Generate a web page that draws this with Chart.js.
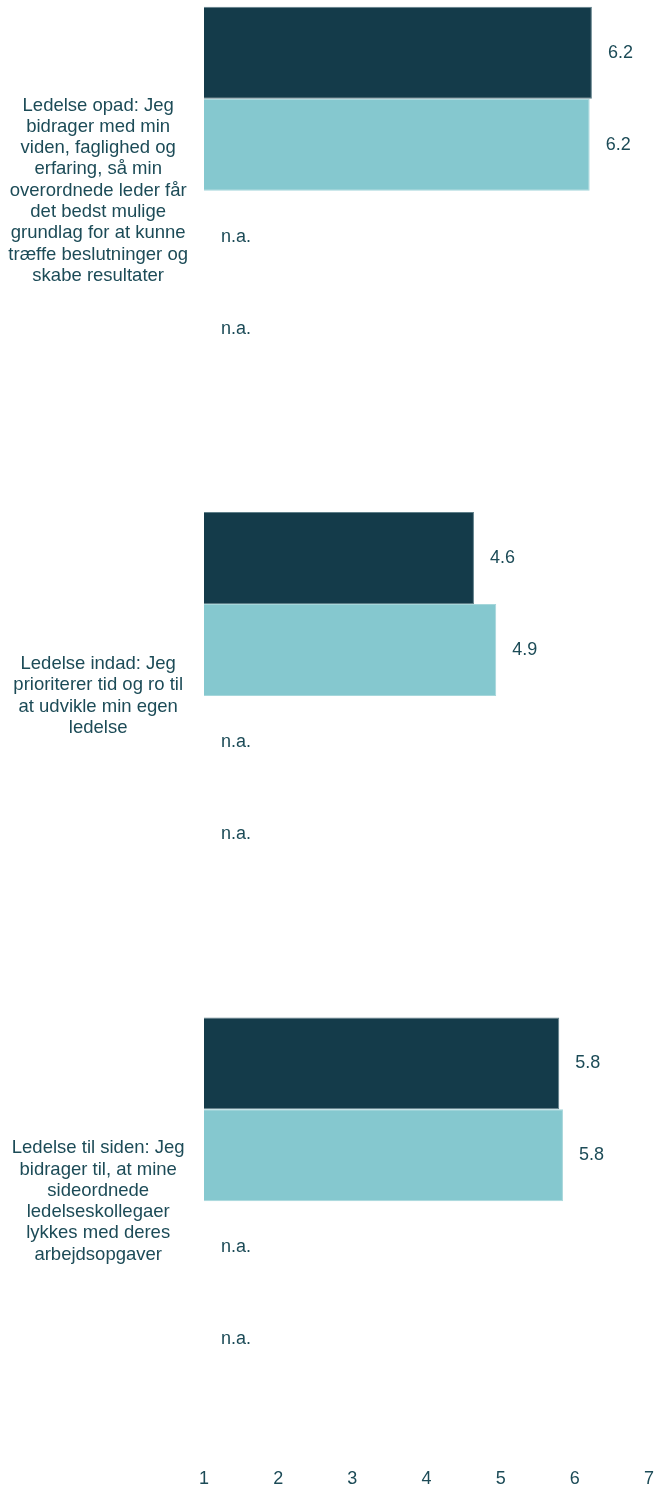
<!DOCTYPE html>
<html lang="da">
<head>
<meta charset="utf-8">
<script src="https://cdn.jsdelivr.net/npm/chart.js@4"></script>
<style>
  html, body { margin: 0; padding: 0; background: #ffffff; }
  body { width: 657px; height: 1486px; overflow: hidden; position: relative; }
  #wrap { position: absolute; left: 0; top: -62px; width: 657px; height: 1552px; }
</style>
</head>
<body>
<div id="wrap"><canvas id="chart"></canvas></div>
<script>
// Spørgsmål (kategorier), brudt op i linjer
const categories = [
  ["Ledelse opad: Jeg", "bidrager med min", "viden, faglighed og", "erfaring, så min", "overordnede leder får", "det bedst mulige", "grundlag for at kunne", "træffe beslutninger og", "skabe resultater"],
  ["Ledelse indad: Jeg", "prioriterer tid og ro til", "at udvikle min egen", "ledelse"],
  ["Ledelse til siden: Jeg", "bidrager til, at mine", "sideordnede", "ledelseskollegaer", "lykkes med deres", "arbejdsopgaver"]
];

// Gennemsnitsscorer pr. svargruppe (null = ikke tilgængelig)
const seriesA = [6.23, 4.64, 5.79];
const seriesB = [6.20, 4.94, 5.84];
const seriesC = [null, null, null];
const seriesD = [null, null, null];

const seriesNames = ["Gruppe 1", "Gruppe 2", "Gruppe 3", "Gruppe 4"];
const xTicks = [1, 2, 3, 4, 5, 6, 7];

const DARK = "#143b4a";
const LIGHT = "#85c8cf";
const TEXT = "#1c4b57";
const FONT = "'Liberation Sans', Arial, Helvetica, sans-serif";

// Værdier til højre for søjlerne, "n.a." hvor der ikke er data
const valueLabels = {
  id: "valueLabels",
  afterDatasetsDraw(chart) {
    const ctx = chart.ctx;
    const xs = chart.scales.x;
    ctx.save();
    ctx.font = "18px " + FONT;
    ctx.fillStyle = TEXT;
    ctx.textAlign = "left";
    ctx.textBaseline = "middle";
    chart.data.datasets.forEach((ds, di) => {
      const meta = chart.getDatasetMeta(di);
      meta.data.forEach((bar, i) => {
        const v = ds.data[i];
        if (v === null || v === undefined) {
          ctx.fillText("n.a.", xs.getPixelForValue(xTicks[0]) + 17, bar.y);
        } else {
          ctx.fillText(v.toFixed(1), bar.x + 16, bar.y);
        }
      });
    });
    ctx.restore();
  }
};

new Chart(document.getElementById("chart"), {
  type: "bar",
  data: {
    labels: categories,
    datasets: [
      { label: seriesNames[0], data: seriesA, backgroundColor: DARK, borderColor: "#5f7f89", borderWidth: 1 },
      { label: seriesNames[1], data: seriesB, backgroundColor: LIGHT, borderColor: "#a6d7db", borderWidth: 1 },
      { label: seriesNames[2], data: seriesC, backgroundColor: DARK },
      { label: seriesNames[3], data: seriesD, backgroundColor: LIGHT }
    ]
  },
  options: {
    indexAxis: "y",
    responsive: true,
    maintainAspectRatio: false,
    animation: false,
    categoryPercentage: 0.728,
    barPercentage: 1.0,
    layout: { padding: { left: 0, right: 8, top: 0, bottom: 0 } },
    plugins: {
      legend: { display: false },
      tooltip: { enabled: false }
    },
    scales: {
      x: {
        type: "linear",
        min: xTicks[0],
        max: xTicks[xTicks.length - 1],
        grid: { display: false, drawTicks: false },
        border: { display: false },
        afterBuildTicks(scale) { scale.ticks = xTicks.map(v => ({ value: v })); },
        afterFit(scale) {
          scale.paddingLeft = 0;
          scale.paddingRight = 0;
          scale.height = 36;
        },
        ticks: {
          color: TEXT,
          padding: 14,
          maxRotation: 0,
          font: { family: FONT, size: 18 },
          callback: v => String(v)
        }
      },
      y: {
        grid: { display: false, drawTicks: false },
        border: { display: false },
        afterFit(scale) {
          scale.width = 204;
          scale.paddingTop = 0;
          scale.paddingBottom = 0;
        },
        ticks: {
          color: TEXT,
          padding: 16,
          crossAlign: "center",
          autoSkip: false,
          font: { family: FONT, size: 18.5, lineHeight: 1.15 }
        }
      }
    }
  },
  plugins: [valueLabels]
});
</script>
</body>
</html>
